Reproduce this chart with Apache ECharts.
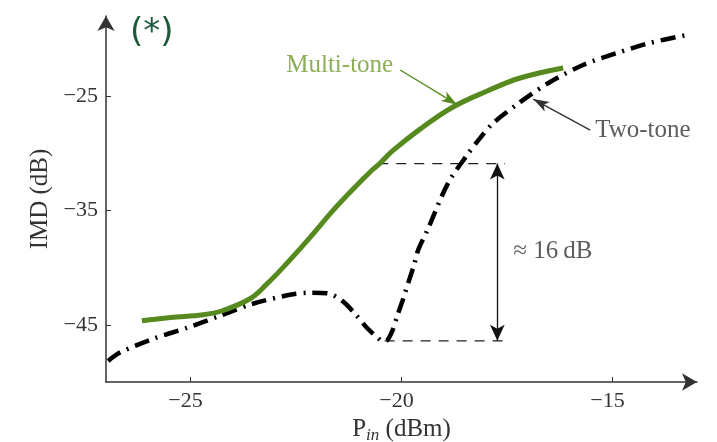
<!DOCTYPE html>
<html>
<head>
<meta charset="utf-8">
<script src="https://cdn.jsdelivr.net/npm/echarts@6/dist/echarts.min.js"></script>
<style>
  html, body { margin: 0; padding: 0; background: #fff; }
  #chart { width: 717px; height: 442px; }
</style>
</head>
<body>
<div id="chart"></div>
<script>
// Input power (dBm) and intermodulation distortion (dB)
const twoTonePin = [-26.95, -26.67, -25.89, -25.08, -24.30, -23.52, -22.64, -22.17, -21.76, -21.41,
  -21.10, -20.82, -20.55, -20.45, -20.34, -20.22, -20.10, -19.96, -19.84, -19.70, -19.61, -19.39, -18.90,
  -18.45, -18.14, -17.83, -17.19, -16.48, -15.70, -14.89, -14.11, -13.23];
const twoToneImd = [-48.16, -47.43, -46.23, -45.26, -44.21, -43.16, -42.37, -42.19, -42.24, -42.89,
  -44.04, -45.26, -46.18, -46.45, -46.35, -45.55, -44.21, -42.72, -41.32, -39.74, -38.51, -36.75, -32.63,
  -30.18, -28.68, -27.37, -25.53, -23.77, -22.28, -21.23, -20.35, -19.65];

const multiTonePin = [-26.15, -25.48, -24.70, -24.25, -23.59, -23.18, -22.81, -22.17, -21.62, -21.15,
  -20.70, -20.51, -20.22, -19.56, -18.78, -17.97, -17.19, -16.17];
const multiToneImd = [-44.65, -44.36, -44.12, -43.77, -42.72, -41.40, -40.00, -37.37, -35.00, -33.15,
  -31.49, -30.88, -29.82, -27.89, -25.96, -24.56, -23.42, -22.54];

// Tick labels
const pinTicks = [-25, -20, -15];
const imdTicks = [-45, -35, -25];

// Gap annotation: multi-tone level vs. two-tone dip
const gapTop = -30.9;
const gapBottom = -46.4;
const gapStartTop = -20.55;
const gapStartBottom = -20.4;
const gapEnd = -17.55;
const gapArrowX = -17.73;

const serif = '"Liberation Serif", "DejaVu Serif", serif';
const fmt = v => (v < 0 ? '\u2212' : '') + Math.abs(v);
const pairs = (xs, ys) => xs.map((x, i) => [x, ys[i]]);

const chart = echarts.init(document.getElementById('chart'), null, { renderer: 'canvas' });

chart.setOption({
  animation: false,
  backgroundColor: '#ffffff',
  grid: { left: 106, right: 20, top: 16, bottom: 60, containLabel: false, outerBoundsMode: 'none' },
  xAxis: {
    type: 'value', min: -27, max: -13,
    name: 'P{sub|in} (dBm)',
    nameLocation: 'middle', nameGap: 32,
    nameTextStyle: {
      fontFamily: serif, fontSize: 25, color: '#333',
      rich: { sub: { fontFamily: serif, fontSize: 17, fontStyle: 'italic', color: '#333', verticalAlign: 'bottom', padding: [12, 0, 0, 0] } }
    },
    axisLine: { lineStyle: { color: '#333', width: 1.5 }, symbol: ['none', 'arrow'], symbolSize: [13, 15] },
    axisTick: { inside: true, length: 5, lineStyle: { color: '#333' }, customValues: pinTicks },
    axisLabel: { fontFamily: serif, fontSize: 22, color: '#333', margin: 8, padding: [0, 10, 0, 0], formatter: fmt, customValues: pinTicks },
    splitLine: { show: false }
  },
  yAxis: {
    type: 'value', min: -50, max: -18,
    name: 'IMD (dB)',
    nameLocation: 'middle', nameGap: 53, nameRotate: 90,
    nameTextStyle: { fontFamily: serif, fontSize: 25, color: '#333' },
    axisLine: { lineStyle: { color: '#333', width: 1.5 }, symbol: ['none', 'arrow'], symbolSize: [13, 15] },
    axisTick: { inside: true, length: 5, lineStyle: { color: '#333' }, customValues: imdTicks },
    axisLabel: { fontFamily: serif, fontSize: 22, color: '#333', margin: 8, formatter: fmt, customValues: imdTicks },
    splitLine: { show: false }
  },
  graphic: [{
    type: 'text', left: 130, top: 16,
    style: { text: '(*)', fontFamily: '"DejaVu Sans", sans-serif', fontSize: 34, fill: '#1d5a3c' }
  }],
  series: [
    {
      name: 'Two-tone', type: 'line', data: pairs(twoTonePin, twoToneImd),
      showSymbol: false, smooth: 0.3, z: 3,
      lineStyle: { color: '#000', width: 4.5, type: [15, 7, 2, 7], cap: 'butt' }
    },
    {
      name: 'Multi-tone', type: 'line', data: pairs(multiTonePin, multiToneImd),
      showSymbol: false, smooth: 0.4, z: 4,
      lineStyle: { color: '#568a1e', width: 5 }
    },
    // Dashed reference levels
    {
      type: 'line', data: [[gapStartTop, gapTop], [gapEnd, gapTop]], showSymbol: false, silent: true, z: 2,
      lineStyle: { color: '#222', width: 1.3, type: [10, 8] }
    },
    {
      type: 'line', data: [[gapStartBottom, gapBottom], [gapEnd, gapBottom]], showSymbol: false, silent: true, z: 2,
      lineStyle: { color: '#222', width: 1.3, type: [10, 8] },
      markLine: {
        silent: true, animation: false, symbol: ['arrow', 'arrow'], symbolSize: [11, 16],
        label: { show: false },
        lineStyle: { color: '#111', width: 1.3, type: 'solid' },
        data: [[{ coord: [gapArrowX, gapTop] }, { coord: [gapArrowX, gapBottom] }]]
      }
    },
    // Pointer arrows for the two curves
    {
      type: 'scatter', data: [], silent: true,
      markLine: {
        silent: true, animation: false, symbol: ['none', 'arrow'],
        label: { show: false },
        data: [
          [{ coord: [-20.03, -22.72], lineStyle: { color: '#568a1e', width: 1.4, type: 'solid' }, symbolSize: [12, 18] },
           { coord: [-18.68, -25.75] }],
          [{ coord: [-15.53, -27.98], lineStyle: { color: '#333', width: 1.4, type: 'solid' }, symbolSize: [12, 18] },
           { coord: [-16.88, -25.26] }]
        ]
      }
    },
    // Text annotations
    {
      type: 'scatter', symbolSize: 0, silent: true, z: 5,
      data: [
        { value: [-20.15, -22.33], label: { position: 'left', formatter: 'Multi-tone', color: '#6f9a2c' } },
        { value: [-15.46, -28.02], label: { position: 'right', formatter: 'Two-tone', color: '#333' } },
        { value: [-17.40, -38.59], label: { position: 'right', formatter: '\u2248 16\u2009dB', color: '#333' } }
      ],
      label: { show: true, distance: 2, fontFamily: serif, fontSize: 25 }
    }
  ]
});
</script>
</body>
</html>
